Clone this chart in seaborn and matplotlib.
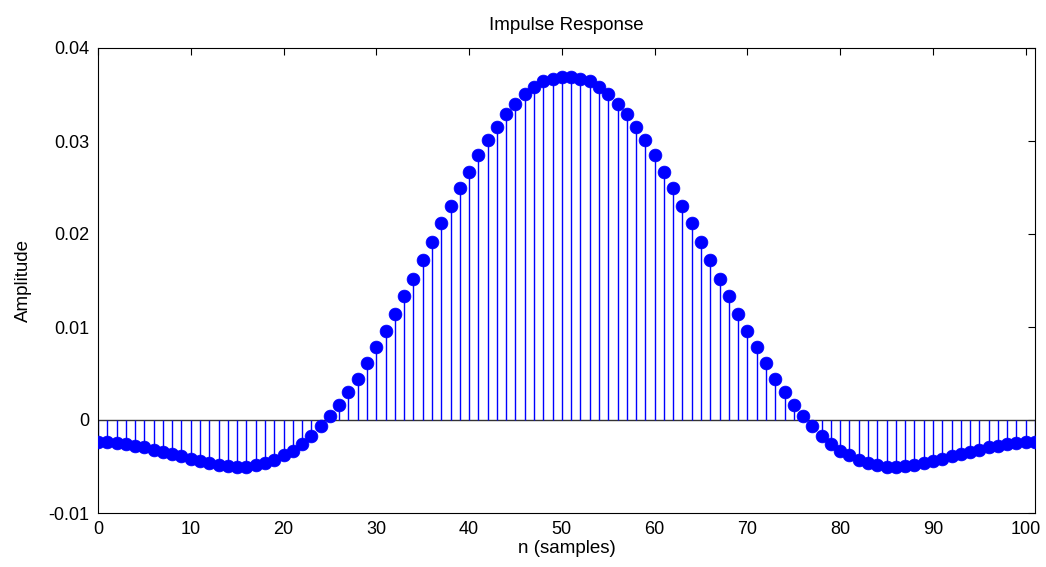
import numpy as np
import pandas as pd
import matplotlib
matplotlib.use("Agg")
import matplotlib.pyplot as plt
import seaborn as sns

n_samples = list(range(102))
amplitude = [
    -0.0024, -0.0024, -0.0025, -0.0026, -0.0028, -0.0029, -0.0032, -0.0034, -0.0037, -0.0039,
    -0.0042, -0.0044, -0.0046, -0.0048, -0.0049, -0.0050, -0.0050, -0.0048, -0.0046, -0.0043,
    -0.0038, -0.0033, -0.0026, -0.0017, -0.0006, 0.0004, 0.0016, 0.0030, 0.0044, 0.0061,
    0.0078, 0.0096, 0.0114, 0.0133, 0.0152, 0.0172, 0.0191, 0.0212, 0.0230, 0.0249,
    0.0267, 0.0285, 0.0301, 0.0315, 0.0329, 0.0340, 0.0351, 0.0358, 0.0364, 0.0367,
    0.0369, 0.0369, 0.0367, 0.0364, 0.0358, 0.0351, 0.0340, 0.0329, 0.0315, 0.0301,
    0.0285, 0.0267, 0.0249, 0.0230, 0.0212, 0.0191, 0.0172, 0.0152, 0.0133, 0.0114,
    0.0096, 0.0078, 0.0061, 0.0044, 0.0030, 0.0016, 0.0004, -0.0006, -0.0017, -0.0026,
    -0.0033, -0.0038, -0.0043, -0.0046, -0.0048, -0.0050, -0.0050, -0.0049, -0.0048, -0.0046,
    -0.0044, -0.0042, -0.0039, -0.0037, -0.0034, -0.0032, -0.0029, -0.0028, -0.0026, -0.0025,
    -0.0024, -0.0024,
]
x_ticks = [0, 10, 20, 30, 40, 50, 60, 70, 80, 90, 100]
y_ticks = [-0.01, 0, 0.01, 0.02, 0.03, 0.04]
y_tick_labels = ["-0.01", "0", "0.01", "0.02", "0.03", "0.04"]

df = pd.DataFrame({"n": n_samples, "h": amplitude})

sns.set_theme(style="white")
plt.rcParams["font.family"] = ["Liberation Sans", "DejaVu Sans"]

fig = plt.figure(figsize=(10.46, 5.67), dpi=100)
ax = fig.add_axes([98 / 1046, 1 - 513 / 567, (1035 - 98) / 1046, (513 - 48) / 567])

ax.vlines(df["n"], 0, df["h"], color="#0000FF", linewidth=1.0, zorder=2)
ax.axhline(0, color="#333333", linewidth=1.0, zorder=1)
sns.scatterplot(data=df, x="n", y="h", ax=ax, color="#0000FF", s=85,
                edgecolor="#0000FF", linewidth=0.5, zorder=3, legend=False)

ax.set_xlim(0, 101)
ax.set_ylim(-0.01, 0.04)
ax.set_xticks(x_ticks)
ax.set_xticklabels([str(t) for t in x_ticks])
ax.set_yticks(y_ticks)
ax.set_yticklabels(y_tick_labels)
ax.tick_params(direction="in", top=True, right=True, length=5, width=0.8,
               labelsize=13, colors="black")
ax.tick_params(axis="x", pad=5.5)
ax.tick_params(axis="y", pad=6)
for sp in ax.spines.values():
    sp.set_visible(True)
    sp.set_color("black")
    sp.set_linewidth(0.8)

ax.set_title("Impulse Response", fontsize=13.5, pad=13, color="black")
ax.set_xlabel("n (samples)", fontsize=13.5, labelpad=2, color="black")
ax.set_ylabel("Amplitude", fontsize=13.5, labelpad=12, color="black")

fig.savefig("out.png", dpi=100, facecolor="white")
